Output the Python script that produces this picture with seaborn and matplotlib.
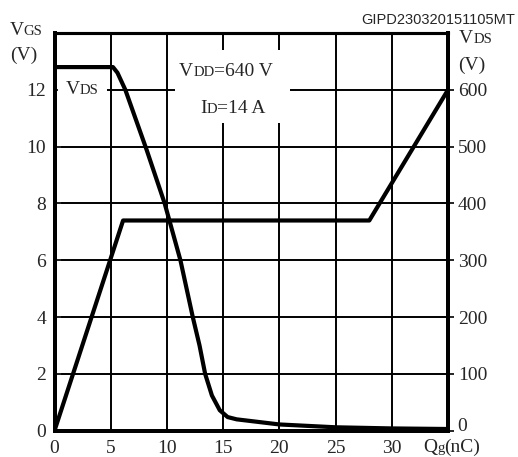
import matplotlib
matplotlib.use("Agg")
import matplotlib.pyplot as plt
import seaborn as sns
import pandas as pd
from matplotlib.patches import Rectangle

# ---- data ----
qg_vgs = [0, 6.1, 28, 35]
vgs = [0, 7.4, 7.4, 12]
qg_vds = [0, 5.2, 5.6, 6.3, 8.2, 9.8, 11.2, 12.3, 12.9, 13.4, 14.0, 14.7, 15.4, 16.2, 20, 25, 30, 35]
vds = [640, 640, 630, 600, 494, 400, 300, 200, 150, 100, 62, 36, 24, 20, 11, 6, 4, 3]
x_ticks = [0, 5, 10, 15, 20, 25, 30]
vgs_ticks = [0, 2, 4, 6, 8, 10, 12]
vds_ticks = [0, 100, 200, 300, 400, 500, 600]

sns.set_style("white")
plt.rcParams['font.family'] = ['Liberation Serif', 'DejaVu Serif']

W, H = 518, 457
fig = plt.figure(figsize=(W / 100, H / 100), dpi=100)
L, R, T, B = 54.5, 448, 33, 430.7
ax = fig.add_axes([L / W, 1 - B / H, (R - L) / W, (B - T) / H])
ax2 = ax.twinx()

df_gs = pd.DataFrame({"Qg": qg_vgs, "VGS": vgs})
df_ds = pd.DataFrame({"Qg": qg_vds, "VDS": vds})

ax.set_xlim(0, 35)
ax.set_ylim(0, 14)
ax2.set_ylim(0, 700)

# grid
for xv in x_ticks[1:]:
    ax.axvline(xv, color="black", lw=1.4, zorder=0.5)
for yv in vgs_ticks[1:]:
    ax.axhline(yv, color="black", lw=1.4, zorder=0.5)

sns.lineplot(data=df_gs, x="Qg", y="VGS", ax=ax, color="black", lw=3, zorder=3)
sns.lineplot(data=df_ds, x="Qg", y="VDS", ax=ax2, color="black", lw=3, zorder=3)

ax.set_xticks(x_ticks)
ax.set_yticks(vgs_ticks)
ax2.set_yticks(vds_ticks)
ax.set_xlabel("")
ax.set_ylabel("")
ax2.set_ylabel("")
ax.tick_params(axis="x", length=0, pad=7, labelsize=14)
ax.tick_params(axis="y", direction="in", length=4, width=1.4, pad=6, labelsize=14, left=True)
ax2.tick_params(axis="y", direction="out", length=4, width=1.4, pad=3, labelsize=14, right=True)
for lbl in ax2.get_yticklabels():
    if lbl.get_text() == "0":
        lbl.set_va("baseline")

for a in (ax, ax2):
    for s in a.spines.values():
        s.set_color("black")
        s.set_linewidth(2.8)
        s.set_visible(True)
ax.spines["top"].set_linewidth(2.2)
ax2.spines["top"].set_linewidth(2.2)

# white boxes over the grid
def wbox(x0, y0, x1, y1):
    ax.add_patch(Rectangle((x0 / W, 1 - y1 / H), (x1 - x0) / W, (y1 - y0) / H,
                           transform=fig.transFigure, facecolor="white",
                           edgecolor="none", zorder=1))

wbox(58, 79, 107, 100)
wbox(175, 50, 290, 123)

renderer = fig.canvas.get_renderer()

def rich(x, y, parts, ha="left", family="Liberation Serif"):
    texts = []
    for s, size in parts:
        t = fig.text(0, 1 - y / H, s, fontsize=size, va="baseline", ha="left", family=family)
        texts.append(t)
    widths = [t.get_window_extent(renderer).width for t in texts]
    total = sum(widths)
    if ha == "center":
        cx = x - total / 2
    elif ha == "right":
        cx = x - total
    else:
        cx = x
    for t, w in zip(texts, widths):
        t.set_x(cx / W)
        cx += w

M, S = 14, 10.5
rich(9.5, 35, [("V", M), ("GS", S)])
rich(10.5, 60, [("(V)", M)])
rich(459, 43, [("V", M), ("DS", S)])
rich(458, 70, [("(V)", M)])
rich(65.5, 94, [("V", M), ("DS", S)])
rich(179, 76.5, [("V", M), ("DD", S), ("=640 V", M)])
rich(200, 113, [("I", M), ("D", S), ("=14 A", M)])
rich(423, 452, [("Q", M), ("g", S), ("(nC)", M)])
fig.text(515 / W, 1 - 24 / H, "GIPD230320151105MT", fontsize=10.5, ha="right",
         va="baseline", family="Liberation Sans")

fig.savefig("out.png", dpi=100)
